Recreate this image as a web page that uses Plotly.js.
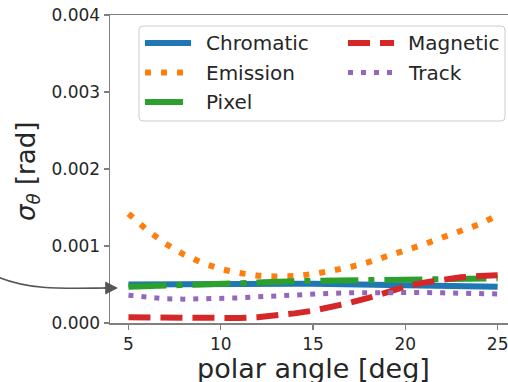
<!DOCTYPE html>
<html>
<head>
<meta charset="utf-8">
<script src="https://cdn.plot.ly/plotly-3.0.1.min.js"></script>
<style>html,body{margin:0;padding:0;background:#fff;}#chart{width:508px;height:382px;}</style>
</head>
<body>
<div id="chart"></div>
<script>
// ---- data ----
const angle = [5,6,7,8,9,10,11,12,13,14,15,16,17,18,19,20,21,22,23,24,25];
const chromatic = [0.000500,0.000503,0.000506,0.000508,0.000510,0.000511,0.000512,0.000512,0.000512,0.000511,0.000510,0.000508,0.000505,0.000502,0.000499,0.000496,0.000492,0.000488,0.000483,0.000478,0.000472];
const emission  = [0.001420,0.001210,0.001030,0.000890,0.000780,0.000700,0.000650,0.000615,0.000605,0.000610,0.000635,0.000680,0.000725,0.000790,0.000860,0.000940,0.001020,0.001110,0.001190,0.001280,0.001400];
const pixel     = [0.000470,0.000480,0.000490,0.000498,0.000506,0.000514,0.000521,0.000528,0.000535,0.000541,0.000547,0.000552,0.000556,0.000560,0.000564,0.000567,0.000570,0.000573,0.000576,0.000578,0.000580];
const magnetic  = [0.000074,0.000070,0.000067,0.000065,0.000062,0.000061,0.000065,0.000076,0.000095,0.000125,0.000160,0.000208,0.000263,0.000325,0.000405,0.000473,0.000525,0.000566,0.000594,0.000610,0.000620];
const track     = [0.000360,0.000330,0.000315,0.000310,0.000310,0.000315,0.000325,0.000340,0.000355,0.000368,0.000378,0.000386,0.000392,0.000396,0.000398,0.000398,0.000396,0.000392,0.000387,0.000382,0.000377];
const seriesNames = ["Chromatic","Emission","Pixel","Magnetic","Track"];
const xTicks = [5,10,15,20,25];
const yTicks = [0,0.001,0.002,0.003,0.004];
const xTitle = "polar angle [deg]";
const yTitle = "<i>σ</i><sub><i>θ</i></sub> [rad]";

// ---- styles ----
const colors = ["#1f77b4","#ff7f0e","#2ca02c","#d62728","#9467bd"];
const widths = [6,6,6,6,5];
const dashes = ["solid","6px,10px","38px,10px,6px,10px","22px,10px","5px,8px"];
const values = [chromatic, emission, pixel, magnetic, track];

const traces = values.map((v,i)=>({
  x: angle, y: v, type:"scatter", mode:"lines", name: seriesNames[i],
  line:{color:colors[i], width:widths[i], dash:dashes[i]}, showlegend:false, hoverinfo:"skip"
}));

// ---- layout geometry helpers (pixels -> paper) ----
const L=110, T=15, W=398, H=308;
const px = x => (x-L)/W;
const py = y => (T+H-y)/H;

const FONT = "DejaVu Sans, sans-serif";
const shapes = [];
const annotations = [];

// legend frame with rounded corners
(function(){
  const x0=139,x1=505,y0=26,y1=121,r=4;
  const p = (x,y)=>px(x)+","+py(y);
  const path = "M"+p(x0+r,y0)+" L"+p(x1-r,y0)+" Q"+p(x1,y0)+" "+p(x1,y0+r)+
    " L"+p(x1,y1-r)+" Q"+p(x1,y1)+" "+p(x1-r,y1)+" L"+p(x0+r,y1)+" Q"+p(x0,y1)+" "+p(x0,y1-r)+
    " L"+p(x0,y0+r)+" Q"+p(x0,y0)+" "+p(x0+r,y0)+" Z";
  shapes.push({type:"path", xref:"paper", yref:"paper", path:path,
    line:{color:"#cccccc", width:1}, fillcolor:"rgba(255,255,255,0.85)", layer:"above"});
})();

// legend entries: column-major like the reference
const legendPos = [
  {lx:145, tx:204, y:43},
  {lx:145, tx:204, y:72.5},
  {lx:145, tx:204, y:102},
  {lx:348, tx:406, y:43},
  {lx:348, tx:406, y:72.5}
];
seriesNames.forEach((n,i)=>{
  const p = legendPos[i];
  shapes.push({type:"line", xref:"paper", yref:"paper", x0:px(p.lx), x1:px(p.lx+46), y0:py(p.y), y1:py(p.y),
    line:{color:colors[i], width:widths[i], dash:dashes[i]}, layer:"above"});
  annotations.push({xref:"paper", yref:"paper", x:px(p.tx), y:py(p.y), xanchor:"left", yanchor:"middle",
    text:n, showarrow:false, font:{family:FONT, size:20, color:"#262626"}});
});

// axis titles
annotations.push({xref:"paper", yref:"paper", x:px(313), y:py(368.5), xanchor:"center", yanchor:"middle",
  text:xTitle, showarrow:false, font:{family:FONT, size:27, color:"#262626"}});
annotations.push({xref:"paper", yref:"paper", x:px(27.5), y:py(171.5), xanchor:"center", yanchor:"middle",
  text:yTitle, textangle:-90, showarrow:false, font:{family:FONT, size:26, color:"#262626"}});

// curved pointer arrow
shapes.push({type:"path", xref:"paper", yref:"paper",
  path:"M"+px(-2)+","+py(277)+" C"+px(30)+","+py(290)+" "+px(60)+","+py(288.5)+" "+px(106)+","+py(288),
  line:{color:"#555555", width:1.6}, layer:"above"});
annotations.push({xref:"paper", yref:"paper", x:px(118), y:py(288), ax:-16, ay:0, text:"",
  showarrow:true, arrowhead:2, arrowsize:1.6, arrowwidth:1.6, arrowcolor:"#555555"});

const axisCommon = {
  showgrid:false, zeroline:false, showline:true, linecolor:"#808080", linewidth:1.5,
  ticks:"outside", ticklen:5, tickwidth:1.3, tickcolor:"#808080",
  ticklabeloverflow:"allow",
  tickfont:{family:FONT, size:17, color:"#262626"}
};

const layout = {
  width:508, height:382,
  margin:{l:L, r:0, t:T, b:382-T-H, pad:0},
  paper_bgcolor:"#ffffff", plot_bgcolor:"#ffffff",
  font:{family:FONT},
  showlegend:false,
  xaxis:Object.assign({}, axisCommon, {range:[4,25.56], tickvals:xTicks, ticktext:xTicks.map(String), mirror:true}),
  yaxis:Object.assign({}, axisCommon, {range:[0,0.004], tickvals:yTicks, tickformat:".3f", mirror:false}),
  shapes:shapes,
  annotations:annotations
};

Plotly.newPlot("chart", traces, layout, {staticPlot:true, displayModeBar:false});
</script>
</body>
</html>
